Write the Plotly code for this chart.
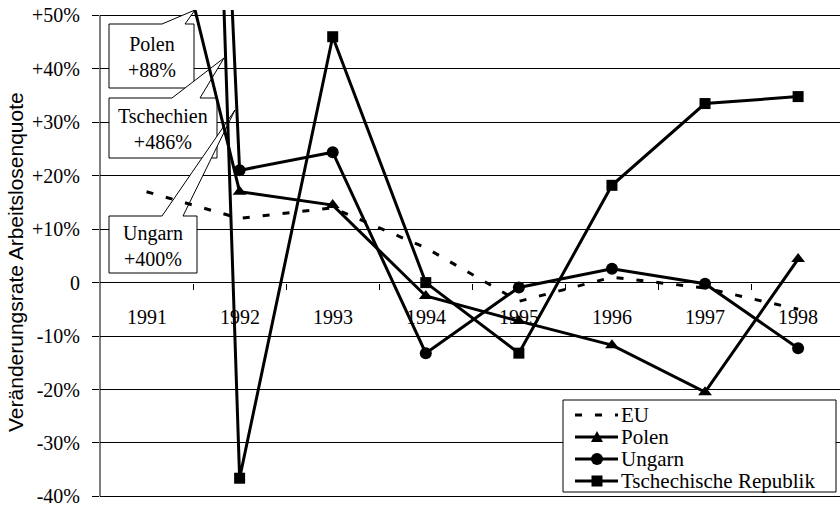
import plotly.graph_objects as go

# Veränderungsrate der Arbeitslosenquote gegenüber Vorjahr (%)
years = ['1991', '1992', '1993', '1994', '1995', '1996', '1997', '1998']
eu = [17, 12, 14, 6.5, -3.5, 1, -1, -5]
polen = [88, 17, 14.5, -2.5, -7.2, -11.7, -20.5, 4.4]
ungarn = [400, 21, 24.4, -13.2, -0.9, 2.6, -0.2, -12.3]
tschechien = [486, -36.6, 46, 0, -13.2, 18.2, 33.5, 34.8]

series_names = ['EU', 'Polen', 'Ungarn', 'Tschechische Republik']

y_ticks = [50, 40, 30, 20, 10, 0, -10, -20, -30, -40]
y_ticktext = ['+50%', '+40%', '+30%', '+20%', '+10%', '0', '-10%', '-20%', '-30%', '-40%']

# callouts for the off-scale 1991 values
callout_text = ['Polen<br>+88%', 'Tschechien<br>+486%', 'Ungarn<br>+400%']

W, H = 840, 507
LEFT, RIGHT, TOP, BOTTOM = 100, 0, 10, 9
XR = [-0.5, 7.45]
YR = [-40.3, 51]

SERIF = 'Times New Roman'
SANS = 'Arial'
EU_DASH = '7px,13px'


def to_x(px):
    return XR[0] + (px - LEFT) * (XR[1] - XR[0]) / (W - LEFT - RIGHT)


def to_y(py):
    return YR[1] - (py - TOP) * (YR[1] - YR[0]) / (H - TOP - BOTTOM)


def pap_x(px):
    return (px - LEFT) / (W - LEFT - RIGHT)


def pap_y(py):
    return (H - BOTTOM - py) / (H - TOP - BOTTOM)


def path(points, conv_x=to_x, conv_y=to_y):
    return 'M ' + ' L '.join('%.4f,%.4f' % (conv_x(a), conv_y(b)) for a, b in points) + ' Z'


xs = list(range(len(years)))

fig = go.Figure()
fig.add_trace(go.Scatter(
    x=xs, y=eu, name=series_names[0], mode='lines',
    line=dict(color='black', width=3, dash=EU_DASH),
))
fig.add_trace(go.Scatter(
    x=xs, y=polen, name=series_names[1], mode='lines+markers',
    line=dict(color='black', width=3),
    marker=dict(symbol='triangle-up', size=12, color='black'),
))
fig.add_trace(go.Scatter(
    x=xs, y=ungarn, name=series_names[2], mode='lines+markers',
    line=dict(color='black', width=3),
    marker=dict(symbol='circle', size=12, color='black'),
))
fig.add_trace(go.Scatter(
    x=xs, y=tschechien, name=series_names[3], mode='lines+markers',
    line=dict(color='black', width=3),
    marker=dict(symbol='square', size=11, color='black'),
))

# year labels below the zero line
for i, yr in enumerate(years):
    fig.add_annotation(x=i, y=to_y(317), text=yr, showarrow=False,
                       font=dict(family=SERIF, size=20, color='black'))

# callout boxes (pixel geometry: box, wedge base, tip)
boxes = [(109, 24, 194, 88), (109, 98, 217, 158), (109, 216, 197, 273)]
wedges = [(162, 185), (172, 200), (162, 183)]
tips = [(195, 10), (224, 58), (235, 110)]
for (x0, y0, x1, y1), (b0, b1), tip, txt in zip(boxes, wedges, tips, callout_text):
    pts = [(x0, y0), (b0, y0), tip, (b1, y0), (x1, y0), (x1, y1), (x0, y1)]
    fig.add_shape(type='path', path=path(pts), xref='x', yref='y',
                  line=dict(color='black', width=1), fillcolor='white',
                  layer='between')
    fig.add_annotation(x=to_x((x0 + x1) / 2), y=to_y((y0 + y1) / 2 + 1),
                       text=txt, showarrow=False,
                       font=dict(family=SERIF, size=20, color='black'))

# left axis line
fig.add_shape(type='line', xref='paper', yref='y', x0=0, x1=0,
              y0=-40, y1=50, line=dict(color='black', width=1))

# legend box drawn by hand (tighter rows than plotly's legend)
fig.add_shape(type='rect', xref='paper', yref='paper',
              x0=pap_x(563), x1=pap_x(836), y0=pap_y(400), y1=pap_y(492),
              line=dict(color='black', width=1), fillcolor='white', layer='above')
rows = [415, 437, 459, 481]
symbols = [None, 'triangle', 'circle', 'square']
for name, row, sym in zip(series_names, rows, symbols):
    fig.add_shape(type='line', xref='paper', yref='paper',
                  x0=pap_x(575), x1=pap_x(618), y0=pap_y(row), y1=pap_y(row),
                  line=dict(color='black', width=3,
                            dash=EU_DASH if sym is None else 'solid'),
                  layer='above')
    cx, s = 597, 6
    if sym == 'triangle':
        fig.add_shape(type='path', xref='paper', yref='paper', layer='above',
                      path=path([(cx - s, row + 5), (cx + s, row + 5), (cx, row - 6)],
                                pap_x, pap_y),
                      fillcolor='black', line=dict(color='black', width=0))
    elif sym == 'circle':
        fig.add_shape(type='circle', xref='paper', yref='paper', layer='above',
                      x0=pap_x(cx - s), x1=pap_x(cx + s),
                      y0=pap_y(row + s), y1=pap_y(row - s),
                      fillcolor='black', line=dict(color='black', width=0))
    elif sym == 'square':
        fig.add_shape(type='rect', xref='paper', yref='paper', layer='above',
                      x0=pap_x(cx - 5.5), x1=pap_x(cx + 5.5),
                      y0=pap_y(row + 5.5), y1=pap_y(row - 5.5),
                      fillcolor='black', line=dict(color='black', width=0))
    fig.add_annotation(xref='paper', yref='paper', x=pap_x(619), y=pap_y(row),
                       xanchor='left', yanchor='middle', text=name, showarrow=False,
                       font=dict(family=SERIF, size=21, color='black'))

# y axis title
fig.add_annotation(xref='paper', yref='paper', x=pap_x(15), y=pap_y(262),
                   xanchor='center', yanchor='middle',
                   text='Veränderungsrate Arbeitslosenquote', textangle=-90,
                   showarrow=False,
                   font=dict(family=SANS, size=21, color='black'))

fig.update_layout(
    width=W, height=H,
    margin=dict(l=LEFT, r=RIGHT, t=TOP, b=BOTTOM, autoexpand=False),
    plot_bgcolor='white', paper_bgcolor='white',
    font=dict(family=SERIF, size=20, color='black'),
    showlegend=False,
)
fig.update_xaxes(
    range=XR, showgrid=False, zeroline=False, showline=False, automargin=False,
    anchor='free', position=(0 - YR[0]) / (YR[1] - YR[0]),
    tickvals=[i + 0.5 for i in xs[:-1]], ticks='outside', ticklen=6,
    tickcolor='black', tickwidth=1, showticklabels=False,
)
fig.update_yaxes(
    range=YR, tickvals=y_ticks, ticktext=y_ticktext, automargin=False,
    showgrid=True, gridcolor='black', gridwidth=1, zeroline=False,
    showline=False, ticks='outside', ticklen=7, tickcolor='black',
    ticklabelstandoff=8, ticklabeloverflow='allow',
    tickfont=dict(family=SERIF, size=20, color='black'),
)

fig.write_html("out.html", config={'displayModeBar': False},
               post_script="document.body.style.margin='0';")
